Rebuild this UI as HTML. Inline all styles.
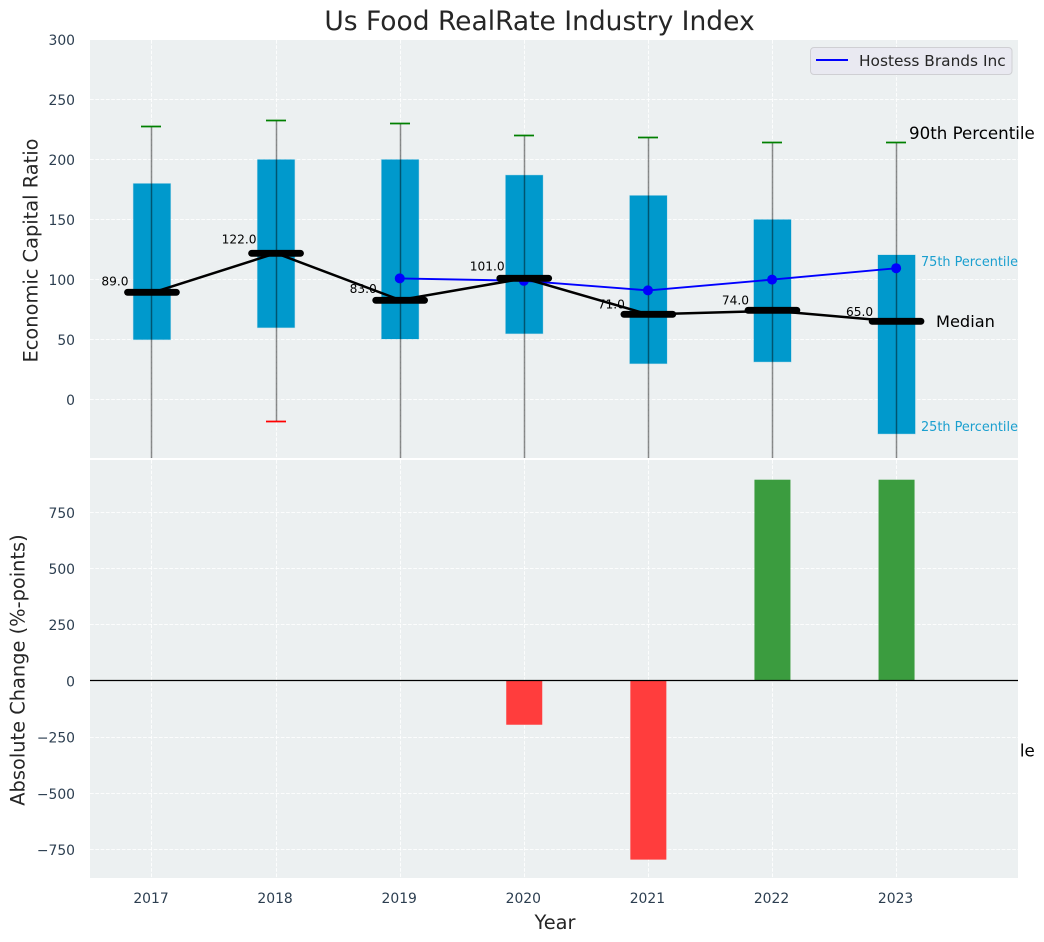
<!DOCTYPE html>
<html lang="en">
<head>
<meta charset="utf-8">
<title>Us Food RealRate Industry Index</title>
<style>
html,body{margin:0;padding:0;background:#fff;}
svg{display:block;font-family:"DejaVu Sans","Liberation Sans",sans-serif;}
</style>
</head>
<body>
<svg id="chart" xmlns="http://www.w3.org/2000/svg" width="1044" height="942" viewBox="0 0 1044 942">
  <defs>
    <clipPath id="clip-top"><rect x="90" y="40" width="928" height="418"/></clipPath>
    <clipPath id="clip-bottom"><rect x="90" y="460" width="928" height="418"/></clipPath>
    <clipPath id="clip-p10"><rect x="1020.4" y="730" width="24" height="40"/></clipPath>
  </defs>
  <text x="539.5" y="30" text-anchor="middle" font-size="26.5px" fill="#262626">Us Food RealRate Industry Index</text>
  <text id="p10label" x="909" y="756.5" font-size="16.67px" fill="#000" clip-path="url(#clip-p10)">10th Percentile</text>
  <rect x="90" y="40" width="928" height="418" fill="#ecf0f1"/>
  <rect x="90" y="460" width="928" height="418" fill="#ecf0f1"/>
  <g id="grid"></g>
  <g id="top-marks" clip-path="url(#clip-top)"></g>
  <g id="bottom-marks" clip-path="url(#clip-bottom)"></g>
  <g id="ticks"></g>
  <text transform="translate(37.5,250.5) rotate(-90)" text-anchor="middle" font-size="19.4px" fill="#262626">Economic Capital Ratio</text>
  <text transform="translate(24.5,670) rotate(-90)" text-anchor="middle" font-size="19.4px" fill="#262626">Absolute Change (%-points)</text>
  <text x="555" y="929" text-anchor="middle" font-size="19.4px" fill="#262626">Year</text>
  <text x="909" y="139" font-size="16.67px" fill="#000">90th Percentile</text>
  <text x="921" y="266" fill="#1a9fcf" style="font-size:12.85px">75th Percentile</text>
  <text x="921" y="431" fill="#1a9fcf" style="font-size:12.85px">25th Percentile</text>
  <text x="936" y="327" font-size="16.2px" fill="#000">Median</text>
  <g>
    <rect x="810.5" y="47.5" width="201.5" height="27" rx="3.5" fill="#e9e9f1" stroke="#cfcfd3" stroke-width="1"/>
    <line x1="816" y1="60" x2="848" y2="60" stroke="#0000ff" stroke-width="2"/>
    <text x="859" y="66" font-size="15.37px" fill="#262626">Hostess Brands Inc</text>
  </g>
</svg>
<script>
const years = [2017, 2018, 2019, 2020, 2021, 2022, 2023];
const p90 = [228, 233, 230.5, 220.5, 218.5, 214.5, 214.5];
const p75 = [180, 200, 200, 187, 170, 150, 120.5];
const median = [89, 122, 83, 101, 71, 74, 65];
const p25 = [50, 60, 50.5, 55, 30, 31.5, -28.5];
const p10 = [-120, -18, -150, -130, -200, -250, -292];
const hostessYears = [2019, 2020, 2021, 2022, 2023];
const hostess = [101, 99, 91, 100, 109.5];
const changeYears = [2020, 2021, 2022, 2023];
const changes = [-195, -795, 895, 895];
const topTicks = [0, 50, 100, 150, 200, 250, 300];
const bottomTicks = [-750, -500, -250, 0, 250, 500, 750];

const NS = 'http://www.w3.org/2000/svg';
const xScale = v => 151.95 + (v - 2017) * 124.1;
const yTop = v => 399.6 - v * 1.2;
const yBottom = v => 680.9 - v * 0.2248;
const snap = p => Math.floor(p) + 0.5;

function make(parent, tag, attrs, text) {
  const el = document.createElementNS(NS, tag);
  for (const k in attrs) el.setAttribute(k, attrs[k]);
  if (text !== undefined) el.textContent = text;
  parent.appendChild(el);
  return el;
}
const grid = document.getElementById('grid');
const topG = document.getElementById('top-marks');
const botG = document.getElementById('bottom-marks');
const ticks = document.getElementById('ticks');
const dash = {stroke: '#ffffff', 'stroke-width': 1, 'stroke-dasharray': '3.7 1.6', 'stroke-opacity': 0.85};

topTicks.forEach(t => {
  const l = make(grid, 'line', Object.assign({x1: 90, x2: 1018, y1: snap(yTop(t)), y2: snap(yTop(t))}, dash));
  
  
  const s = make(ticks, 'text', {x: 75, y: yTop(t) + 5.5, 'text-anchor': 'end', 'font-size': '13.9px', fill: '#2c3e50'}, String(t));
  
  
});
bottomTicks.forEach(t => {
  const l = make(grid, 'line', Object.assign({x1: 90, x2: 1018, y1: snap(yBottom(t)), y2: snap(yBottom(t))}, dash));
  
  
  const s = make(ticks, 'text', {x: 75, y: yBottom(t) + 5.5, 'text-anchor': 'end', 'font-size': '13.9px', fill: '#2c3e50'}, String(t).replace('-', '\u2212'));
  
  
});
years.forEach(y => {
  const a = make(grid, 'line', Object.assign({x1: snap(xScale(y)), x2: snap(xScale(y)), y1: 40, y2: 458}, dash));
  
  
  const b = make(grid, 'line', Object.assign({x1: snap(xScale(y)), x2: snap(xScale(y)), y1: 460, y2: 878}, dash));
  
  
  const s = make(ticks, 'text', {x: xScale(y) - 0.95, y: 903, 'text-anchor': 'middle', 'font-size': '13.9px', fill: '#2c3e50'}, String(y));
  
  
});

years.forEach((y, i) => {
  const box = make(topG, 'rect', {x: xScale(y) - 18.6, width: 37.2, y: yTop(p75[i]), height: yTop(p25[i]) - yTop(p75[i]), fill: '#0099cc', stroke: '#0099cc', 'stroke-opacity': 0.25, 'stroke-width': 1});
  
  
});
years.forEach((y, i) => {
  const sx = snap(xScale(y));
  const w = make(topG, 'line', {x1: sx, x2: sx, y1: snap(yTop(p90[i])), y2: snap(yTop(p10[i])), stroke: '#000', 'stroke-opacity': 0.45, 'stroke-width': 1.5});
  
  
  const c1 = make(topG, 'line', {x1: sx - 10.5, x2: sx + 9.5, y1: snap(yTop(p90[i])), y2: snap(yTop(p90[i])), stroke: '#008000', 'stroke-width': 1.7});
  
  
  const c2 = make(topG, 'line', {x1: sx - 10.5, x2: sx + 9.5, y1: snap(yTop(p10[i])), y2: snap(yTop(p10[i])), stroke: '#ff0000', 'stroke-width': 1.7});
  
  
});

const hostessLine = make(topG, 'polyline', {points: hostessYears.map((y, i) => xScale(y) + ',' + yTop(hostess[i])).join(' '), fill: 'none', stroke: '#0000ff', 'stroke-width': 1.9});


hostessYears.forEach((y, i) => {
  const d = make(topG, 'circle', {cx: xScale(y) - 0.4, cy: yTop(hostess[i]), r: 5, fill: '#0000ff'});
  
  
});

years.forEach((y, i) => {
  const t = make(topG, 'text', {x: xScale(y) - 37, y: yTop(median[i]) - (0.07 * median[i] + 1), 'text-anchor': 'middle', 'font-size': '12.2px', fill: '#000'}, median[i].toFixed(1));
  
  
});

const medianLine = make(topG, 'polyline', {points: years.map((y, i) => xScale(y) + ',' + yTop(median[i])).join(' '), fill: 'none', stroke: '#000', 'stroke-width': 2.5});


years.forEach((y, i) => {
  const m = make(topG, 'line', {x1: xScale(y) - 24.4, x2: xScale(y) + 24.4, y1: snap(yTop(median[i])) - 0.2, y2: snap(yTop(median[i])) - 0.2, stroke: '#000', 'stroke-width': 6.9, 'stroke-linecap': 'round'});
  
  
});

changeYears.forEach((y, i) => {
  const v = changes[i];
  const top = Math.min(yBottom(v), yBottom(0));
  const b = make(botG, 'rect', {x: xScale(y) - 18, width: 36, y: top, height: Math.abs(yBottom(v) - yBottom(0)), fill: v < 0 ? '#ff3d3d' : '#3b9c3f'});
  
  
});
const zero = make(botG, 'line', {x1: 90, x2: 1018, y1: 680.5, y2: 680.5, stroke: '#000', 'stroke-width': 1.3});


</script>
</body>
</html>
